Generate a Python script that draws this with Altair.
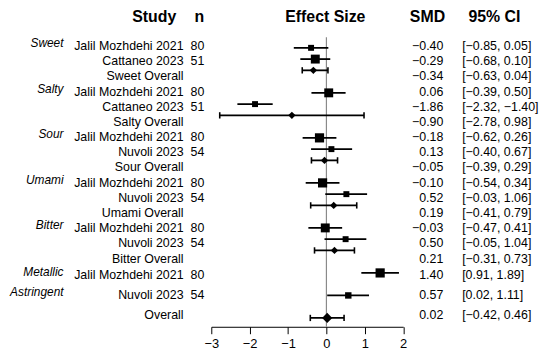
import altair as alt
import pandas as pd

# ---------------- data ----------------
tastes = ["Sweet", "Salty", "Sour", "Umami", "Bitter", "Metallic", "Astringent"]
taste_first_row = [0, 3, 6, 9, 12, 15, 16]

studies = ["Jalil Mozhdehi 2021", "Cattaneo 2023", "Sweet Overall",
           "Jalil Mozhdehi 2021", "Cattaneo 2023", "Salty Overall",
           "Jalil Mozhdehi 2021", "Nuvoli 2023", "Sour Overall",
           "Jalil Mozhdehi 2021", "Nuvoli 2023", "Umami Overall",
           "Jalil Mozhdehi 2021", "Nuvoli 2023", "Bitter Overall",
           "Jalil Mozhdehi 2021", "Nuvoli 2023", "Overall"]
n_vals = ["80", "51", "", "80", "51", "", "80", "54", "", "80", "54", "",
          "80", "54", "", "80", "54", ""]
smd = [-0.40, -0.29, -0.34, 0.06, -1.86, -0.90, -0.18, 0.13, -0.05,
       -0.10, 0.52, 0.19, -0.03, 0.50, 0.21, 1.40, 0.57, 0.02]
ci_lo = [-0.85, -0.68, -0.63, -0.39, -2.32, -2.78, -0.62, -0.40, -0.39,
         -0.54, -0.03, -0.41, -0.47, -0.05, -0.31, 0.91, 0.02, -0.42]
ci_hi = [0.05, 0.10, 0.04, 0.50, -1.40, 0.98, 0.26, 0.67, 0.29,
         0.34, 1.06, 0.79, 0.41, 1.04, 0.73, 1.89, 1.11, 0.46]
row_kind = ["study", "study", "sub", "study", "study", "sub", "study", "study", "sub",
            "study", "study", "sub", "study", "study", "sub", "study", "study", "total"]
# relative study weight (estimated from square areas)
weight = [36, 81, 0, 81, 36, 0, 86, 36, 0, 86, 36, 0, 81, 36, 0, 86, 42, 0]
axis_ticks = [-3, -2, -1, 0, 1, 2]
headers_txt = ["Study", "n", "Effect Size", "SMD", "95% CI"]

# ---------------- layout helpers ----------------
PAD_TOP = 12
AXIS_PAGE_Y = 328
H = AXIS_PAGE_Y - 8 - PAD_TOP
W = 193.5
XPLOT = 213            # page x of plot left edge
YPLOT = 8 + PAD_TOP    # page y of plot top
UNIT = 11.35           # px per slot on the y scale
SLOT0 = 46.7           # page y of slot 0

def page_to_slot(y):
    return (y - SLOT0) / UNIT

def mark_slot(r):
    return 4 * (r // 3) + r % 3 if r < 15 else 20 + 2 * (r - 15)

def text_slot(r):
    y = 45 + 15.3 * r if r < 15 else 276 + 20 * (r - 15)
    return page_to_slot(y)

fmt = lambda v: f"{v:.2f}".replace("-", "\u2212")
rows = []
for i in range(len(studies)):
    rows.append(dict(
        study=studies[i], n=n_vals[i], smd=smd[i], lo=ci_lo[i], hi=ci_hi[i],
        kind=row_kind[i], weight=weight[i],
        slot=mark_slot(i), tslot=text_slot(i),
        cap0=mark_slot(i) - 0.28, cap1=mark_slot(i) + 0.28,
        smd_txt=fmt(smd[i]),
        ci_txt=f"[{fmt(ci_lo[i])}, {fmt(ci_hi[i])}]",
    ))
df = pd.DataFrame(rows)
cat_df = pd.DataFrame({"taste": tastes,
                       "tslot": [text_slot(r) - 0.27 for r in taste_first_row]})
tick_df = pd.DataFrame({"v": axis_ticks})

# ---------------- chart ----------------
FONT = "Liberation Sans"
xs = alt.Scale(domain=[-3, 2], nice=False, zero=False)
AX = alt.Axis(values=axis_ticks, title=None, grid=False, tickSize=7, tickColor="black",
              domainColor="black", labelColor="black", labelFontSize=13, labelFont=FONT,
              labelPadding=4, tickWidth=1, domainWidth=1, labelFlush=False,
              labelOverlap=False)
ys = alt.Scale(domain=[page_to_slot(YPLOT), page_to_slot(AXIS_PAGE_Y)],
               reverse=True, nice=False, zero=False)
X = lambda f: alt.X(f"{f}:Q", scale=xs, axis=AX)
Y = lambda f: alt.Y(f"{f}:Q", scale=ys, axis=None)

base = alt.Chart(df)

zero_line = alt.Chart(tick_df).transform_filter("datum.v == 0").mark_rule(
    color="#8a8a8a", strokeWidth=1.2).encode(
    x=X("v"), y=alt.value(36 - YPLOT), y2=alt.value(H))

ci = base.mark_rule(color="black", strokeWidth=1.8).encode(
    x=X("lo"), x2="hi:Q", y=Y("slot"))

caps_lo = base.transform_filter("datum.kind != 'study'").mark_rule(
    color="black", strokeWidth=1.6).encode(
    x=X("lo"), y=Y("cap0"), y2="cap1:Q")
caps_hi = base.transform_filter("datum.kind != 'study'").mark_rule(
    color="black", strokeWidth=1.6).encode(
    x=X("hi"), y=Y("cap0"), y2="cap1:Q")

squares = base.transform_filter("datum.kind == 'study'").mark_point(
    shape="square", filled=True, color="black", opacity=1).encode(
    x=X("smd"), y=Y("slot"),
    size=alt.Size("weight:Q", scale=alt.Scale(domain=[0, 100], range=[0, 100]), legend=None))

diam_sub = base.transform_filter("datum.kind == 'sub'").mark_point(
    shape="diamond", filled=True, color="black", opacity=1, size=55).encode(
    x=X("smd"), y=Y("slot"))
diam_tot = base.transform_filter("datum.kind == 'total'").mark_point(
    shape="diamond", filled=True, color="black", opacity=1, size=105).encode(
    x=X("smd"), y=Y("slot"))

def col_text(field, xpage, align):
    return base.mark_text(align=align, baseline="middle", font=FONT, fontSize=12.5,
                          color="black").encode(
        x=alt.value(xpage - XPLOT), y=Y("tslot"), text=f"{field}:N")

t_study = col_text("study", 185, "right")
t_n = col_text("n", 206, "right")
t_smd = col_text("smd_txt", 447, "right")
t_ci = col_text("ci_txt", 466, "left")

t_cat = alt.Chart(cat_df).mark_text(align="right", baseline="middle", font=FONT,
                                    fontSize=12, fontStyle="italic", color="black").encode(
    x=alt.value(64 - XPLOT), y=Y("tslot"), text="taste:N")

header_x = [155.5, 201, 328, 431, 498.5]
def header(i):
    return alt.Chart(tick_df).transform_filter("datum.v == 0").mark_text(
        text=headers_txt[i], align="center", baseline="alphabetic", font=FONT,
        fontSize=16, fontWeight="bold", color="black").encode(
        x=alt.value(header_x[i] - XPLOT), y=alt.value(20.5 - YPLOT))

headers = [header(i) for i in range(len(headers_txt))]

chart = alt.layer(zero_line, ci, caps_lo, caps_hi, squares, diam_sub, diam_tot,
                  t_study, t_n, t_smd, t_ci, t_cat, *headers).properties(
    width=W, height=H,
    padding={"left": XPLOT - 8, "top": PAD_TOP, "right": 140, "bottom": 28},
    autosize=alt.AutoSizeParams(type="none"),
).configure_view(stroke=None).configure_axisX(labelOverlap=False)

chart.save("out.html", embed_options={"renderer": "svg", "actions": False})
